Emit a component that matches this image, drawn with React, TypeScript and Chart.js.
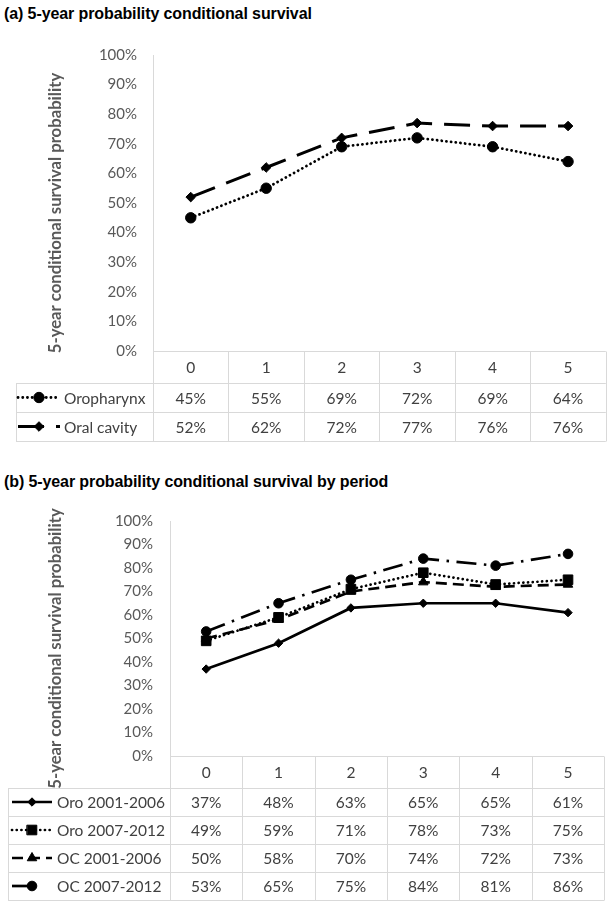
import React, { useEffect, useRef } from "react";
import { Chart, registerables } from "chart.js";
import { drawPoint } from "chart.js/helpers";

Chart.register(...registerables);

// ---------- data ----------
const survivalYears = ["0", "1", "2", "3", "4", "5"];

const oropharynx = [45, 55, 69, 72, 69, 64];
const oralCavity = [52, 62, 72, 77, 76, 76];

const oro2001_2006 = [37, 48, 63, 65, 65, 61];
const oro2007_2012 = [49, 59, 71, 78, 73, 75];
const oc2001_2006 = [50, 58, 70, 74, 72, 73];
const oc2007_2012 = [53, 65, 75, 84, 81, 86];

const seriesNamesA = ["Oropharynx", "Oral cavity"];
const seriesNamesB = ["Oro 2001-2006", "Oro 2007-2012", "OC 2001-2006", "OC 2007-2012"];

const titleA = "(a) 5-year probability conditional survival";
const titleB = "(b) 5-year probability conditional survival by period";
const yAxisTitle = "5-year conditional survival probability";

// ---------- styling ----------
const FONT = "Lato, 'Noto Sans', sans-serif";
const TITLE_FONT = "'Liberation Sans', Arial, sans-serif";
const GRID = "#d9d9d9";
const TICK_COLOR = "#595959";
const TABLE_TEXT = "#404040";

const yTitlePlugin = {
  id: "yTitle",
  afterDraw(chart: any, _args: any, opts: any) {
    const { ctx, chartArea } = chart;
    ctx.save();
    ctx.translate(opts.x, (chartArea.top + chartArea.bottom) / 2 + opts.dy);
    ctx.rotate(-Math.PI / 2);
    ctx.fillStyle = opts.color;
    ctx.font = `bold ${opts.size}px ${FONT}`;
    ctx.textAlign = "center";
    ctx.textBaseline = "middle";
    ctx.fillText(opts.text, 0, 0);
    ctx.restore();
  },
};

const dataTablePlugin = {
  id: "dataTable",
  afterDraw(chart: any, _args: any, opts: any) {
    const { ctx, chartArea } = chart;
    const xs = chart.scales.x;
    const labels = chart.data.labels as string[];
    const sets = chart.data.datasets as any[];
    const n = labels.length;
    const top = chartArea.bottom;
    const headerBottom = top + opts.headerH;
    const bottom = headerBottom + sets.length * opts.rowH;
    const bounds: number[] = [chartArea.left];
    for (let j = 1; j < n; j++) bounds.push((xs.getPixelForValue(j - 1) + xs.getPixelForValue(j)) / 2);
    bounds.push(chartArea.right);

    ctx.save();
    ctx.strokeStyle = GRID;
    ctx.lineWidth = 1;
    const hl = (x0: number, x1: number, y: number) => {
      const yy = Math.round(y) + 0.5;
      ctx.beginPath();
      ctx.moveTo(x0, yy);
      ctx.lineTo(x1, yy);
      ctx.stroke();
    };
    const vl = (x: number, y0: number, y1: number) => {
      const xx = Math.round(x) + 0.5;
      ctx.beginPath();
      ctx.moveTo(xx, Math.round(y0) + 0.5);
      ctx.lineTo(xx, Math.round(y1) + 0.5);
      ctx.stroke();
    };
    hl(chartArea.left, chartArea.right, top);
    for (let i = 0; i <= sets.length; i++) hl(opts.left, chartArea.right, headerBottom + i * opts.rowH);
    bounds.forEach((b) => vl(b, top, bottom));
    vl(opts.left, headerBottom, bottom);

    ctx.fillStyle = TABLE_TEXT;
    ctx.font = `${opts.fontSize}px ${FONT}`;
    ctx.textBaseline = "middle";
    ctx.textAlign = "center";
    labels.forEach((l, j) => ctx.fillText(l, xs.getPixelForValue(j), top + opts.headerH / 2 + 1));

    sets.forEach((ds, i) => {
      const cy = headerBottom + i * opts.rowH + opts.rowH / 2;
      ctx.fillStyle = TABLE_TEXT;
      ctx.textAlign = "center";
      ds.data.forEach((val: number, j: number) => ctx.fillText(val + "%", xs.getPixelForValue(j), cy + 1));
      ctx.textAlign = "left";
      ctx.fillText(ds.label, opts.textX, cy + 1);

      ctx.save();
      ctx.strokeStyle = ds.borderColor;
      ctx.lineWidth = ds.borderWidth;
      ctx.setLineDash(ds.borderDash || []);
      ctx.lineCap = ds.borderCapStyle || "butt";
      ctx.beginPath();
      ctx.moveTo(opts.keyX0, cy);
      ctx.lineTo(ds.keyEnd ?? opts.keyX1, cy);
      ctx.stroke();
      ctx.setLineDash([]);
      ctx.fillStyle = ds.pointBackgroundColor;
      ctx.strokeStyle = ds.pointBorderColor;
      ctx.lineWidth = 1;
      drawPoint(ctx, { pointStyle: ds.pointStyle, radius: ds.pointRadius, rotation: 0, borderWidth: 1 } as any, opts.markerX, cy);
      ctx.restore();
    });
    ctx.restore();
  },
};

function makeDataset(label: string, data: number[], style: any) {
  return {
    label,
    data,
    borderColor: "#000",
    pointBackgroundColor: "#000",
    pointBorderColor: "#000",
    pointBorderWidth: 1,
    tension: 0,
    fill: false,
    ...style,
  };
}

function makeConfig(datasets: any[], p: any): any {
  return {
    type: "line",
    data: { labels: survivalYears, datasets },
    options: {
      responsive: false,
      animation: false,
      events: [],
      layout: { padding: { left: 0, right: 4, top: p.padTop, bottom: p.padBottom } },
      plugins: {
        legend: { display: false },
        tooltip: { enabled: false },
        dataTable: p.table,
        yTitle: { text: yAxisTitle, x: 56, dy: 10, size: 16.7, color: TICK_COLOR },
      },
      scales: {
        x: { display: false, offset: true },
        y: {
          min: 0,
          max: 100,
          ticks: {
            stepSize: 10,
            callback: (v: any) => v + "%",
            color: TICK_COLOR,
            font: { family: FONT, size: 15 },
            padding: p.tickPad,
          },
          grid: { display: false, drawTicks: false },
          border: { display: true, color: GRID, width: 1 },
          title: { display: false },
          afterFit: (s: any) => {
            s.width = p.axisWidth;
          },
        },
      },
    },
    plugins: [dataTablePlugin, yTitlePlugin],
  };
}

function ChartCanvas({ top, height, config }: { top: number; height: number; config: () => any }) {
  const ref = useRef<HTMLCanvasElement>(null);
  useEffect(() => {
    const chart = new Chart(ref.current!, config());
    return () => chart.destroy();
  }, []);
  return (
    <canvas
      ref={ref}
      width={612}
      height={height}
      style={{ position: "absolute", left: 0, top, width: 612, height }}
    />
  );
}

const configA = () =>
  makeConfig(
    [
      makeDataset(seriesNamesA[0], oropharynx, {
        borderWidth: 2.8,
        borderDash: [0.1, 4.6],
        borderCapStyle: "round",
        pointStyle: "circle",
        pointRadius: 5.2,
      }),
      makeDataset(seriesNamesA[1], oralCavity, {
        borderWidth: 3,
        borderDash: [26, 12],
        borderCapStyle: "butt",
        pointStyle: "rectRot",
        pointRadius: 4.8,
      }),
    ],
    {
      padTop: 23,
      padBottom: 94,
      tickPad: 16,
      axisWidth: 153,
      table: { left: 16, headerH: 32, rowH: 29, keyX0: 18, keyX1: 60, markerX: 39, textX: 64, fontSize: 15.5 },
    }
  );

const configB = () =>
  makeConfig(
    [
      makeDataset(seriesNamesB[0], oro2001_2006, {
        borderWidth: 2.7,
        borderDash: [],
        borderCapStyle: "butt",
        pointStyle: "rectRot",
        pointRadius: 4.2,
      }),
      makeDataset(seriesNamesB[1], oro2007_2012, {
        borderWidth: 2.7,
        borderDash: [0.1, 4.6],
        borderCapStyle: "round",
        pointStyle: "rect",
        pointRadius: 6.8,
      }),
      makeDataset(seriesNamesB[2], oc2001_2006, {
        borderWidth: 2.7,
        borderDash: [11, 6],
        borderCapStyle: "butt",
        pointStyle: "triangle",
        pointRadius: 5.5,
      }),
      makeDataset(seriesNamesB[3], oc2007_2012, {
        borderWidth: 2.7,
        borderDash: [20, 7.5, 2.5, 7.5],
        borderCapStyle: "butt",
        pointStyle: "circle",
        pointRadius: 4.8,
        keyEnd: 36,
      }),
    ],
    {
      padTop: 20,
      padBottom: 148,
      tickPad: 17,
      axisWidth: 170,
      table: { left: 8, headerH: 32, rowH: 28, keyX0: 12, keyX1: 52, markerX: 32, textX: 57, fontSize: 15.5 },
    }
  );

const titleStyle: React.CSSProperties = {
  position: "absolute",
  left: 4,
  fontFamily: TITLE_FONT,
  fontWeight: "bold",
  fontSize: 16,
  lineHeight: "20px",
  letterSpacing: "-0.1px",
  color: "#000",
  whiteSpace: "nowrap",
};

export default function App() {
  return (
    <div style={{ position: "absolute", left: 0, top: 0, width: 612, height: 904, background: "#fff", overflow: "hidden" }}>
      <div style={{ ...titleStyle, top: 4 }}>{titleA}</div>
      <ChartCanvas top={30} height={415} config={configA} />
      <div style={{ ...titleStyle, top: 472 }}>{titleB}</div>
      <ChartCanvas top={495} height={409} config={configB} />
    </div>
  );
}
